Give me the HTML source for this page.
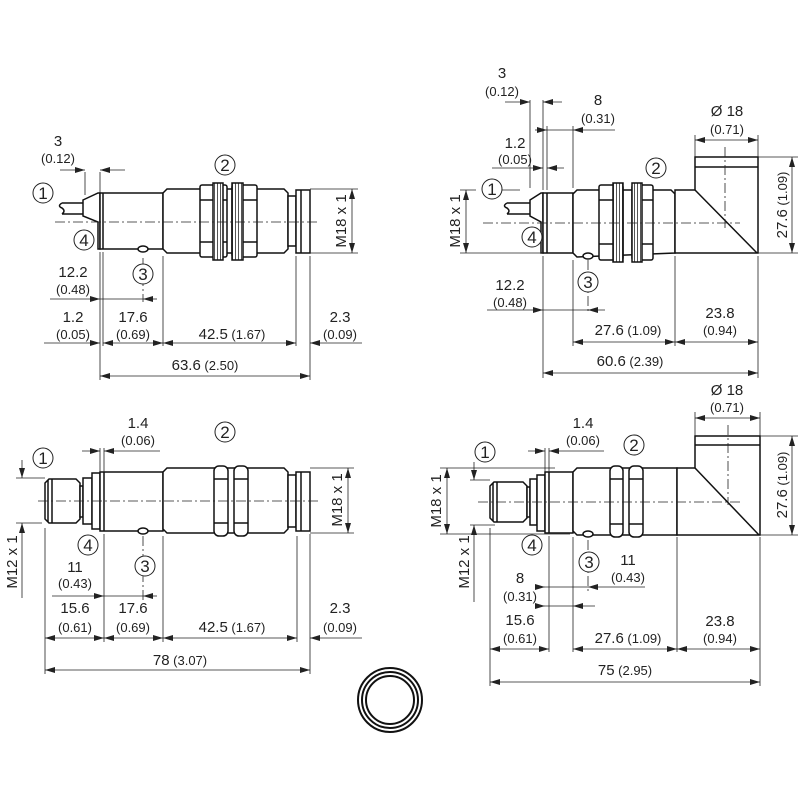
<!DOCTYPE html>
<html><head><meta charset="utf-8"><style>
html,body{margin:0;padding:0;background:#fff}
svg{display:block}
text{font-family:"Liberation Sans",sans-serif;fill:#222}
.v{font-size:15px}
.p{font-size:13px}
.c{font-size:17px}
.o{fill:#fff;stroke:#111;stroke-width:1.5}
.l{fill:none;stroke:#111;stroke-width:1.5}
.d{fill:none;stroke:#222;stroke-width:0.8}
.cl{fill:none;stroke:#222;stroke-width:0.8;stroke-dasharray:10 3 2 3}
.h{fill:url(#kn);stroke:#111;stroke-width:1.5}
.cc{fill:#fff;stroke:#222;stroke-width:1}
</style></head><body>
<svg width="800" height="800" viewBox="0 0 800 800" xmlns="http://www.w3.org/2000/svg">
<defs>
<marker id="a" viewBox="0 0 10 6" refX="10" refY="3" markerWidth="10" markerHeight="6" markerUnits="userSpaceOnUse" orient="auto-start-reverse"><path d="M0,0 L10,3 L0,6 Z" fill="#222"/></marker>
<pattern id="kn" width="3" height="10" patternUnits="userSpaceOnUse"><rect width="3" height="10" fill="#fff"/><line x1="1.5" y1="0" x2="1.5" y2="10" stroke="#555" stroke-width="1"/></pattern>
</defs>

<!-- ========== Drawing 1 (top-left) ========== -->
<g>
<path class="l" d="M62,203 L83,203 M62,214 L83,214 M62,203 q-5,3 0,5 q4,3 0,6"/>
<path class="o" d="M83,200 L98,193 L100,193 L100,249 L98,249 L98,222 L83,216 Z"/>
<rect class="o" x="100" y="193" width="63" height="56"/>
<line class="l" x1="103" y1="193" x2="103" y2="249"/>
<path class="o" d="M163,193 L167,189 L284,189 L288,193 L288,249 L284,253 L167,253 L163,249 Z"/>
<rect class="o" x="288" y="196" width="8" height="50"/>
<rect class="o" x="296" y="190" width="14" height="63"/>
<line class="l" x1="301" y1="190" x2="301" y2="253"/>
<rect class="o" x="200" y="185" width="27" height="72" rx="2"/>
<path class="l" d="M200,200 L227,200 M200,242 L227,242"/>
<rect class="h" x="213" y="183" width="10" height="77"/>
<rect class="o" x="232" y="185" width="25" height="72" rx="2"/>
<path class="l" d="M232,200 L257,200 M232,242 L257,242"/>
<rect class="h" x="232" y="183" width="11" height="77"/>
<ellipse class="o" cx="143" cy="249" rx="5" ry="3"/>
<line class="cl" x1="55" y1="222" x2="318" y2="222"/>
<!-- M18 -->
<path class="d" d="M310,189 L358,189 M310,253 L358,253"/>
<line class="d" x1="352" y1="189" x2="352" y2="253" marker-start="url(#a)" marker-end="url(#a)"/>
<text class="v" transform="translate(346,221) rotate(-90)" text-anchor="middle">M18 x 1</text>
<!-- top 3 -->
<path class="d" d="M85,172 L85,195 M100,172 L100,193"/>
<line class="d" x1="60" y1="170" x2="85" y2="170" marker-end="url(#a)"/>
<line class="d" x1="125" y1="170" x2="100" y2="170" marker-end="url(#a)"/>
<text class="v" x="58" y="146" text-anchor="middle">3</text>
<text class="p" x="58" y="163" text-anchor="middle">(0.12)</text>
<!-- ext lines -->
<path class="d" d="M100,252 L100,380 M103,252 L103,346 M163,256 L163,346 M296,256 L296,346 M310,256 L310,380"/>
<line class="cl" x1="143" y1="258" x2="143" y2="302"/>
<line class="d" x1="50" y1="299" x2="100" y2="299" marker-end="url(#a)"/>
<line class="d" x1="157" y1="299" x2="143" y2="299" marker-end="url(#a)"/>
<line class="d" x1="100" y1="299" x2="143" y2="299"/>
<text class="v" x="73" y="277" text-anchor="middle">12.2</text>
<text class="p" x="73" y="294" text-anchor="middle">(0.48)</text>
<line class="d" x1="44" y1="343" x2="100" y2="343" marker-end="url(#a)"/>
<line class="d" x1="103" y1="343" x2="163" y2="343" marker-start="url(#a)" marker-end="url(#a)"/>
<line class="d" x1="163" y1="343" x2="296" y2="343" marker-start="url(#a)" marker-end="url(#a)"/>
<line class="d" x1="362" y1="343" x2="310" y2="343" marker-end="url(#a)"/>
<text class="v" x="73" y="322" text-anchor="middle">1.2</text>
<text class="p" x="73" y="339" text-anchor="middle">(0.05)</text>
<text class="v" x="133" y="322" text-anchor="middle">17.6</text>
<text class="p" x="133" y="339" text-anchor="middle">(0.69)</text>
<text x="232" y="339" text-anchor="middle"><tspan class="v">42.5</tspan><tspan class="p"> (1.67)</tspan></text>
<text class="v" x="340" y="322" text-anchor="middle">2.3</text>
<text class="p" x="340" y="339" text-anchor="middle">(0.09)</text>
<line class="d" x1="100" y1="376" x2="310" y2="376" marker-start="url(#a)" marker-end="url(#a)"/>
<text x="205" y="370" text-anchor="middle"><tspan class="v">63.6</tspan><tspan class="p"> (2.50)</tspan></text>
<circle class="cc" cx="43" cy="193" r="10"/><text class="c" x="43" y="199" text-anchor="middle">1</text>
<circle class="cc" cx="225" cy="165" r="10"/><text class="c" x="225" y="171" text-anchor="middle">2</text>
<circle class="cc" cx="143" cy="274" r="10"/><text class="c" x="143" y="280" text-anchor="middle">3</text>
<circle class="cc" cx="84" cy="240" r="10"/><text class="c" x="84" y="246" text-anchor="middle">4</text>
</g>

<!-- ========== Drawing 2 (top-right) ========== -->
<g>
<path class="l" d="M507,203 L530,203 M507,214 L530,214 M507,203 q-5,3 0,5 q4,3 0,6"/>
<path class="o" d="M530,200 L541,193 L543,193 L543,253 L541,253 L541,222 L530,216 Z"/>
<rect class="o" x="543" y="193" width="30" height="60"/>
<line class="l" x1="547" y1="193" x2="547" y2="253"/>
<path class="o" d="M573,194 L577,190 L671,190 L675,194 L675,253 L577,257 L573,253 Z"/>
<path class="o" d="M675,190 L695,190 L695,157 L758,157 L758,253 L675,253 Z"/>
<line class="l" x1="695" y1="167" x2="758" y2="167"/>
<line class="l" x1="695" y1="190" x2="757" y2="253"/>
<rect class="o" x="599" y="185" width="24" height="75" rx="2"/>
<path class="l" d="M599,200 L623,200 M599,244 L623,244"/>
<rect class="h" x="613" y="183" width="10" height="79"/>
<rect class="o" x="632" y="185" width="21" height="75" rx="2"/>
<path class="l" d="M632,200 L653,200 M632,244 L653,244"/>
<rect class="h" x="632" y="183" width="10" height="79"/>
<ellipse class="o" cx="588" cy="256" rx="5" ry="3"/>
<line class="cl" x1="483" y1="223" x2="740" y2="223"/>
<line class="cl" x1="725" y1="147" x2="725" y2="228"/>
<!-- M18 -->
<path class="d" d="M460,190 L476,190 M460,253 L543,253 M498,190 L520,190"/>
<line class="d" x1="466" y1="190" x2="466" y2="253" marker-start="url(#a)" marker-end="url(#a)"/>
<text class="v" transform="translate(460,221) rotate(-90)" text-anchor="middle">M18 x 1</text>
<!-- 27.6 vertical -->
<path class="d" d="M758,157 L798,157 M758,253 L798,253"/>
<line class="d" x1="792" y1="157" x2="792" y2="253" marker-start="url(#a)" marker-end="url(#a)"/>
<text transform="translate(787,205) rotate(-90)" text-anchor="middle"><tspan class="v">27.6</tspan><tspan class="p"> (1.09)</tspan></text>
<!-- Ø18 -->
<path class="d" d="M695,135 L695,157 M758,135 L758,157"/>
<line class="d" x1="695" y1="140" x2="758" y2="140" marker-start="url(#a)" marker-end="url(#a)"/>
<text class="v" x="727" y="116" text-anchor="middle">Ø 18</text>
<text class="p" x="727" y="134" text-anchor="middle">(0.71)</text>
<!-- top dims -->
<path class="d" d="M530,100 L530,188 M543,100 L543,190 M547,126 L547,190 M573,126 L573,188" stroke-dasharray="0"/>
<line class="d" x1="505" y1="102" x2="530" y2="102" marker-end="url(#a)"/>
<line class="d" x1="562" y1="102" x2="543" y2="102" marker-end="url(#a)"/>
<text class="v" x="502" y="78" text-anchor="middle">3</text>
<text class="p" x="502" y="96" text-anchor="middle">(0.12)</text>
<line class="d" x1="535" y1="130" x2="547" y2="130" marker-end="url(#a)"/>
<line class="d" x1="547" y1="130" x2="573" y2="130"/>
<line class="d" x1="615" y1="130" x2="573" y2="130" marker-end="url(#a)"/>
<text class="v" x="598" y="105" text-anchor="middle">8</text>
<text class="p" x="598" y="123" text-anchor="middle">(0.31)</text>
<line class="d" x1="492" y1="168" x2="543" y2="168" marker-end="url(#a)"/>
<line class="d" x1="564" y1="168" x2="547" y2="168" marker-end="url(#a)"/>
<text class="v" x="515" y="148" text-anchor="middle">1.2</text>
<text class="p" x="515" y="164" text-anchor="middle">(0.05)</text>
<!-- bottom dims -->
<path class="d" d="M543,256 L543,378 M573,260 L573,346 M675,256 L675,346 M758,256 L758,378"/>
<line class="cl" x1="588" y1="260" x2="588" y2="314"/>
<line class="d" x1="487" y1="310" x2="543" y2="310" marker-end="url(#a)"/>
<line class="d" x1="543" y1="310" x2="588" y2="310"/>
<line class="d" x1="605" y1="310" x2="588" y2="310" marker-end="url(#a)"/>
<text class="v" x="510" y="290" text-anchor="middle">12.2</text>
<text class="p" x="510" y="307" text-anchor="middle">(0.48)</text>
<line class="d" x1="573" y1="342" x2="675" y2="342" marker-start="url(#a)" marker-end="url(#a)"/>
<text x="628" y="335" text-anchor="middle"><tspan class="v">27.6</tspan><tspan class="p"> (1.09)</tspan></text>
<line class="d" x1="675" y1="342" x2="758" y2="342" marker-start="url(#a)" marker-end="url(#a)"/>
<text class="v" x="720" y="318" text-anchor="middle">23.8</text>
<text class="p" x="720" y="335" text-anchor="middle">(0.94)</text>
<line class="d" x1="543" y1="373" x2="758" y2="373" marker-start="url(#a)" marker-end="url(#a)"/>
<text x="630" y="366" text-anchor="middle"><tspan class="v">60.6</tspan><tspan class="p"> (2.39)</tspan></text>
<circle class="cc" cx="492" cy="189" r="10"/><text class="c" x="492" y="195" text-anchor="middle">1</text>
<circle class="cc" cx="656" cy="168" r="10"/><text class="c" x="656" y="174" text-anchor="middle">2</text>
<circle class="cc" cx="588" cy="282" r="10"/><text class="c" x="588" y="288" text-anchor="middle">3</text>
<circle class="cc" cx="532" cy="237" r="10"/><text class="c" x="532" y="243" text-anchor="middle">4</text>
</g>

<!-- ========== Drawing 3 (bottom-left) ========== -->
<g>
<path class="o" d="M45,483 L49,479 L76,479 L80,483 L80,519 L76,523 L49,523 L45,519 Z"/>
<path class="l" d="M48,480 L48,522 M52,479 L52,523"/>
<rect class="o" x="80" y="486" width="3" height="31"/>
<rect class="o" x="83" y="478" width="9" height="46"/>
<rect class="o" x="92" y="473" width="8" height="56"/>
<rect class="o" x="100" y="472" width="63" height="59"/>
<line class="l" x1="104" y1="472" x2="104" y2="531"/>
<path class="o" d="M163,472 L167,468 L284,468 L288,472 L288,529 L284,533 L167,533 L163,529 Z"/>
<rect class="o" x="288" y="475" width="8" height="52"/>
<rect class="o" x="296" y="472" width="14" height="59"/>
<line class="l" x1="301" y1="472" x2="301" y2="531"/>
<rect class="o" x="214" y="466" width="14" height="70" rx="5"/>
<path class="l" d="M214,479 L228,479 M214,523 L228,523"/>
<rect class="o" x="234" y="466" width="14" height="70" rx="5"/>
<path class="l" d="M234,479 L248,479 M234,523 L248,523"/>
<ellipse class="o" cx="143" cy="531" rx="5" ry="3"/>
<line class="cl" x1="38" y1="501" x2="318" y2="501"/>
<!-- M12 -->
<path class="d" d="M16,478 L45,478 M16,523 L42,523"/>
<line class="d" x1="22" y1="460" x2="22" y2="478" marker-end="url(#a)"/>
<line class="d" x1="22" y1="598" x2="22" y2="523" marker-end="url(#a)"/>
<text class="v" transform="translate(17,562) rotate(-90)" text-anchor="middle">M12 x 1</text>
<!-- M18 -->
<path class="d" d="M310,468 L354,468 M310,533 L354,533"/>
<line class="d" x1="348" y1="468" x2="348" y2="533" marker-start="url(#a)" marker-end="url(#a)"/>
<text class="v" transform="translate(342,500) rotate(-90)" text-anchor="middle">M18 x 1</text>
<!-- 1.4 -->
<path class="d" d="M100,448 L100,472 M104,448 L104,472"/>
<line class="d" x1="82" y1="451" x2="100" y2="451" marker-end="url(#a)"/>
<line class="d" x1="160" y1="451" x2="104" y2="451" marker-end="url(#a)"/>
<text class="v" x="138" y="428" text-anchor="middle">1.4</text>
<text class="p" x="138" y="445" text-anchor="middle">(0.06)</text>
<!-- ext -->
<path class="d" d="M45,528 L45,674 M104,534 L104,642 M163,536 L163,642 M297,536 L297,642 M310,534 L310,674"/>
<line class="cl" x1="143" y1="536" x2="143" y2="600"/>
<line class="d" x1="52" y1="596" x2="104" y2="596" marker-end="url(#a)"/>
<line class="d" x1="104" y1="596" x2="143" y2="596"/>
<line class="d" x1="157" y1="596" x2="143" y2="596" marker-end="url(#a)"/>
<text class="v" x="75" y="572" text-anchor="middle">11</text>
<text class="p" x="75" y="588" text-anchor="middle">(0.43)</text>
<line class="d" x1="45" y1="638" x2="104" y2="638" marker-start="url(#a)" marker-end="url(#a)"/>
<line class="d" x1="104" y1="638" x2="163" y2="638" marker-start="url(#a)" marker-end="url(#a)"/>
<line class="d" x1="163" y1="638" x2="297" y2="638" marker-start="url(#a)" marker-end="url(#a)"/>
<line class="d" x1="362" y1="638" x2="310" y2="638" marker-end="url(#a)"/>
<text class="v" x="75" y="613" text-anchor="middle">15.6</text>
<text class="p" x="75" y="632" text-anchor="middle">(0.61)</text>
<text class="v" x="133" y="613" text-anchor="middle">17.6</text>
<text class="p" x="133" y="632" text-anchor="middle">(0.69)</text>
<text x="232" y="632" text-anchor="middle"><tspan class="v">42.5</tspan><tspan class="p"> (1.67)</tspan></text>
<text class="v" x="340" y="613" text-anchor="middle">2.3</text>
<text class="p" x="340" y="632" text-anchor="middle">(0.09)</text>
<line class="d" x1="45" y1="670" x2="310" y2="670" marker-start="url(#a)" marker-end="url(#a)"/>
<text x="180" y="665" text-anchor="middle"><tspan class="v">78</tspan><tspan class="p"> (3.07)</tspan></text>
<circle class="cc" cx="43" cy="458" r="10"/><text class="c" x="43" y="464" text-anchor="middle">1</text>
<circle class="cc" cx="225" cy="432" r="10"/><text class="c" x="225" y="438" text-anchor="middle">2</text>
<circle class="cc" cx="145" cy="566" r="10"/><text class="c" x="145" y="572" text-anchor="middle">3</text>
<circle class="cc" cx="88" cy="545" r="10"/><text class="c" x="88" y="551" text-anchor="middle">4</text>
</g>

<!-- ========== Drawing 4 (bottom-right) ========== -->
<g>
<path class="o" d="M490,486 L494,482 L523,482 L527,486 L527,518 L523,522 L494,522 L490,518 Z"/>
<path class="l" d="M493,483 L493,521 M497,482 L497,522"/>
<rect class="o" x="527" y="487" width="3" height="30"/>
<rect class="o" x="530" y="479" width="7" height="46"/>
<rect class="o" x="537" y="475" width="8" height="56"/>
<rect class="o" x="545" y="472" width="28" height="61"/>
<line class="l" x1="549" y1="472" x2="549" y2="533"/>
<path class="o" d="M573,472 L577,468 L677,468 L677,535 L577,535 L573,531 Z"/>
<path class="o" d="M677,468 L695,468 L695,436 L760,436 L760,535 L677,535 Z"/>
<line class="l" x1="695" y1="445" x2="760" y2="445"/>
<line class="l" x1="695" y1="468" x2="759" y2="535"/>
<rect class="o" x="610" y="466" width="13" height="71" rx="5"/>
<path class="l" d="M610,479 L623,479 M610,524 L623,524"/>
<rect class="o" x="629" y="466" width="14" height="71" rx="5"/>
<path class="l" d="M629,479 L643,479 M629,524 L643,524"/>
<ellipse class="o" cx="588" cy="534" rx="5" ry="3"/>
<line class="cl" x1="478" y1="502" x2="742" y2="502"/>
<line class="cl" x1="728" y1="425" x2="728" y2="505"/>
<!-- M18 / M12 -->
<path class="d" d="M440,468 L555,468 M440,534 L570,534 M470,480 L490,480 M470,525 L495,525"/>
<line class="d" x1="447" y1="468" x2="447" y2="534" marker-start="url(#a)" marker-end="url(#a)"/>
<text class="v" transform="translate(441,501) rotate(-90)" text-anchor="middle">M18 x 1</text>
<line class="d" x1="474" y1="462" x2="474" y2="480" marker-end="url(#a)"/>
<line class="d" x1="474" y1="602" x2="474" y2="525" marker-end="url(#a)"/>
<text class="v" transform="translate(469,562) rotate(-90)" text-anchor="middle">M12 x 1</text>
<!-- 27.6 vertical -->
<path class="d" d="M760,436 L798,436 M760,535 L798,535"/>
<line class="d" x1="792" y1="436" x2="792" y2="535" marker-start="url(#a)" marker-end="url(#a)"/>
<text transform="translate(787,485) rotate(-90)" text-anchor="middle"><tspan class="v">27.6</tspan><tspan class="p"> (1.09)</tspan></text>
<!-- Ø18 -->
<path class="d" d="M695,412 L695,436 M760,412 L760,436"/>
<line class="d" x1="695" y1="418" x2="760" y2="418" marker-start="url(#a)" marker-end="url(#a)"/>
<text class="v" x="727" y="395" text-anchor="middle">Ø 18</text>
<text class="p" x="727" y="412" text-anchor="middle">(0.71)</text>
<!-- 1.4 -->
<path class="d" d="M545,448 L545,472 M549,448 L549,472"/>
<line class="d" x1="528" y1="451" x2="545" y2="451" marker-end="url(#a)"/>
<line class="d" x1="604" y1="451" x2="549" y2="451" marker-end="url(#a)"/>
<text class="v" x="583" y="428" text-anchor="middle">1.4</text>
<text class="p" x="583" y="445" text-anchor="middle">(0.06)</text>
<!-- ext -->
<path class="d" d="M490,528 L490,686 M549,536 L549,652 M573,537 L573,652 M677,537 L677,652 M760,537 L760,686"/>
<line class="cl" x1="588" y1="540" x2="588" y2="592"/>
<line class="d" x1="535" y1="587" x2="545" y2="587" marker-end="url(#a)"/>
<line class="d" x1="545" y1="587" x2="588" y2="587"/>
<line class="d" x1="645" y1="587" x2="588" y2="587" marker-end="url(#a)"/>
<text class="v" x="628" y="565" text-anchor="middle">11</text>
<text class="p" x="628" y="582" text-anchor="middle">(0.43)</text>
<line class="d" x1="535" y1="606" x2="545" y2="606" marker-end="url(#a)"/>
<line class="d" x1="545" y1="606" x2="573" y2="606"/>
<line class="d" x1="595" y1="606" x2="573" y2="606" marker-end="url(#a)"/>
<text class="v" x="520" y="583" text-anchor="middle">8</text>
<text class="p" x="520" y="601" text-anchor="middle">(0.31)</text>
<line class="d" x1="490" y1="649" x2="549" y2="649" marker-start="url(#a)" marker-end="url(#a)"/>
<text class="v" x="520" y="625" text-anchor="middle">15.6</text>
<text class="p" x="520" y="643" text-anchor="middle">(0.61)</text>
<line class="d" x1="573" y1="649" x2="677" y2="649" marker-start="url(#a)" marker-end="url(#a)"/>
<text x="628" y="643" text-anchor="middle"><tspan class="v">27.6</tspan><tspan class="p"> (1.09)</tspan></text>
<line class="d" x1="677" y1="649" x2="760" y2="649" marker-start="url(#a)" marker-end="url(#a)"/>
<text class="v" x="720" y="626" text-anchor="middle">23.8</text>
<text class="p" x="720" y="643" text-anchor="middle">(0.94)</text>
<line class="d" x1="490" y1="682" x2="760" y2="682" marker-start="url(#a)" marker-end="url(#a)"/>
<text x="625" y="675" text-anchor="middle"><tspan class="v">75</tspan><tspan class="p"> (2.95)</tspan></text>
<circle class="cc" cx="485" cy="452" r="10"/><text class="c" x="485" y="458" text-anchor="middle">1</text>
<circle class="cc" cx="634" cy="445" r="10"/><text class="c" x="634" y="451" text-anchor="middle">2</text>
<circle class="cc" cx="589" cy="562" r="10"/><text class="c" x="589" y="568" text-anchor="middle">3</text>
<circle class="cc" cx="532" cy="545" r="10"/><text class="c" x="532" y="551" text-anchor="middle">4</text>
</g>

<!-- ring -->
<g fill="none" stroke="#111" stroke-width="2">
<circle cx="390" cy="700" r="32"/>
<circle cx="390" cy="700" r="28"/>
<circle cx="390" cy="700" r="24"/>
</g>
</svg>
</body></html>
